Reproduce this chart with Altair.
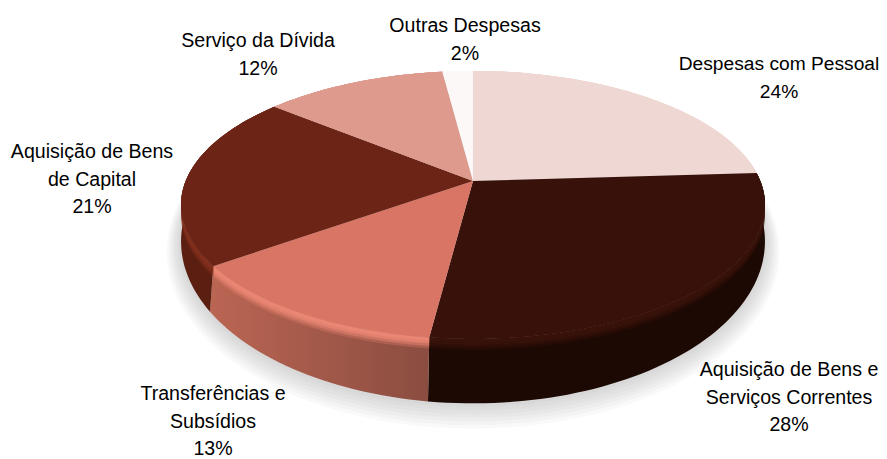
import math
import altair as alt

# ---- data
CATEGORIES = ["Despesas com Pessoal", "Aquisição de Bens e\nServiços Correntes",
              "Transferências e\nSubsídios", "Aquisição de Bens\nde Capital",
              "Serviço da Dívida", "Outras Despesas"]
VALUES = [24, 28, 13, 21, 12, 2]
TOP_COLORS = ["#efd8d3", "#38120a", "#d97565", "#6b2415", "#de9a8d", "#fbf8f7"]
WALL_COLORS = [("#efd8d3", "#efd8d3"), ("#1d0903", "#1d0903"), ("#bb6553", "#8a4d40"),
               ("#5a1f10", "#5a1f10"), ("#de9a8d", "#de9a8d"), ("#fbf8f7", "#fbf8f7")]
BEVEL_COLORS = ["#efd8d3", "#38120a", "#ea8674", "#832f1d", "#de9a8d", "#fbf8f7"]

# ---- layout of the perspective disc (chart pixels: page minus 8px margin)
W, H = 871, 451
CX = 465
TOP_Y, BOTTOM_Y = 173, 200
TOP_A, TOP_B, TOP_K = 287.3, 129.7, -0.179
BOT_A, BOT_B, BOT_K = 285.7, 155.1, -0.206
LABEL_POS = [(771, 56), (781, 362), (205, 386), (84, 144), (250, 33), (457, 18)]
LABEL_SIZE = [19.2, 19.6, 19.6, 19.6, 19.6, 19.6]
LINE_H = 27.6


def rim(theta_deg, apex_y=TOP_Y, a=TOP_A, b=TOP_B, k=TOP_K, grow=0.0, dy=0.0):
    t = math.radians(theta_deg)
    u, w = math.sin(t), -math.cos(t)
    d = 1 + k * w
    return [CX + (a + grow) * u / d, apex_y + dy + (b + grow) * w / d]


def arc(a0, a1, **kw):
    n = max(2, int(abs(a1 - a0) / 1.5) + 1)
    return [rim(a0 + (a1 - a0) * i / (n - 1), **kw) for i in range(n)]


def poly(points):
    ring = points + [points[0]]
    return {"type": "Feature", "properties": {},
            "geometry": {"type": "Polygon", "coordinates": [ring]}}


def shape(feature, fill, opacity=1.0):
    return alt.Chart(alt.Data(values=[feature])).mark_geoshape(
        fill=fill, stroke=None, strokeWidth=0, opacity=opacity
    ).project(type="identity", scale=1, translate=[0, 0])


BOTTOM = dict(apex_y=BOTTOM_Y, a=BOT_A, b=BOT_B, k=BOT_K)
layers = []

# soft shadow under the disc
for g in range(14, 0, -2):
    layers.append(shape(poly(arc(0, 360, grow=g, dy=g * 0.55, **BOTTOM)), "#808080", 0.05))

edges = []
acc = 0
for v in VALUES:
    edges.append((acc * 3.6, (acc + v) * 3.6))
    acc += v

# side walls
for (a0, a1), (c0, c1) in zip(edges, WALL_COLORS):
    pts = arc(a0, a1) + arc(a1, a0, **BOTTOM)
    fill = alt.LinearGradient(gradient="linear", x1=0, x2=1, y1=0, y2=0,
                              stops=[alt.GradientStop(color=c0, offset=0),
                                     alt.GradientStop(color=c1, offset=1)])
    layers.append(shape(poly(pts), fill))

# bevel along the rim
for (a0, a1), c in zip(edges, BEVEL_COLORS):
    for dy, op in ((11, 0.3), (8.5, 0.5), (6, 0.7), (3.5, 0.9)):
        pts = arc(a0, a1) + arc(a1, a0, dy=dy)
        layers.append(shape(poly(pts), c, op))

# top face
for (a0, a1), c in zip(edges, TOP_COLORS):
    layers.append(shape(poly([[CX, TOP_Y]] + arc(a0, a1)), c))

# labels
for name, v, (lx, ly), fs in zip(CATEGORIES, VALUES, LABEL_POS, LABEL_SIZE):
    layers.append(
        alt.Chart(alt.Data(values=[{"t": f"{name}\n{v}%"}])).mark_text(
            font="Liberation Sans", fontSize=fs, color="#000000",
            lineBreak="\n", lineHeight=LINE_H, align="center", baseline="middle"
        ).encode(text="t:N", x=alt.value(lx), y=alt.value(ly))
    )

chart = alt.layer(*layers).properties(
    width=W, height=H, padding=0, background="#ffffff",
    autosize=alt.AutoSizeParams(type="none")
).configure_view(stroke=None)

chart.save("out.html", embed_options={"renderer": "svg", "actions": False})
